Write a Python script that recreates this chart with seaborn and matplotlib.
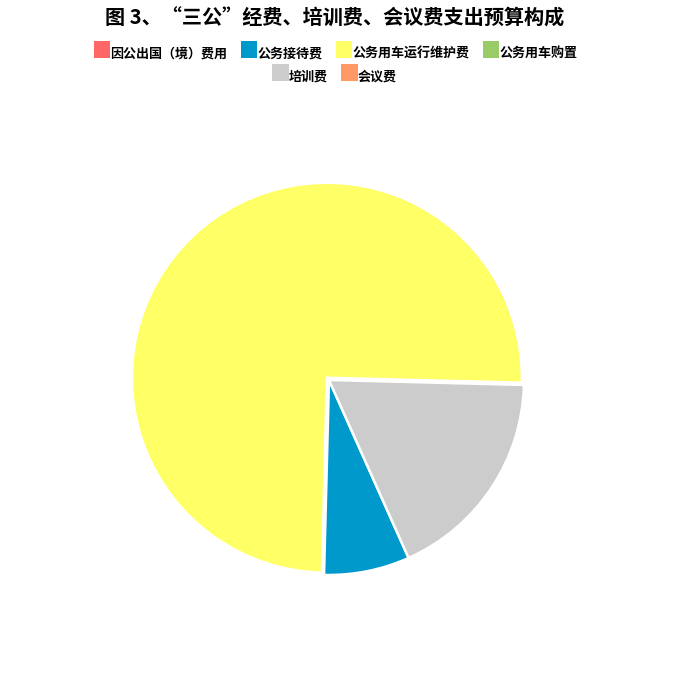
import matplotlib
matplotlib.use("Agg")
import matplotlib.pyplot as plt
from matplotlib.patches import Rectangle
import seaborn as sns

# budget composition (share, %)
categories = ["因公出国（境）费用", "公务接待费", "公务用车运行维护费", "公务用车购置", "培训费", "会议费"]
values = [0, 7.1, 75.0, 0, 17.9, 0]
colors = ["#ff6666", "#0099cc", "#ffff66", "#99cc66", "#cccccc", "#ff9966"]
title = "图 3、“三公”经费、培训费、会议费支出预算构成"

sns.set_theme(style="white")
plt.rcParams["font.family"] = ["Noto Sans CJK SC", "DejaVu Sans"]
plt.rcParams["text.color"] = "black"

W, H = 696, 675
fig = plt.figure(figsize=(W / 100, H / 100), dpi=100)
ax = fig.add_axes([0.1365, 0.0904, 0.6724, 0.6933])

# only the non-zero slices get drawn; zero ones still show in the legend
shown = [(v, c, l) for v, c, l in zip(values, colors, categories) if v > 0]
vals = [s[0] for s in shown]
cols = [s[1] for s in shown]
explode = [0.016 if s[2] == "公务用车运行维护费" else 0 for s in shown]

ax.pie(vals, colors=cols, startangle=-65.9, counterclock=False, explode=explode,
       radius=1, wedgeprops=dict(edgecolor="white", linewidth=1.8))
ax.set_xlim(-1.2, 1.2)
ax.set_ylim(-1.2, 1.2)
ax.set_aspect("equal")
ax.axis("off")

fig.text(0.4806, 0.973, title, ha="center", va="center", fontsize=14.5, fontweight="bold")

# legend laid out by hand: two centred rows, box then label
renderer = fig.canvas.get_renderer()
box_w, box_h, gap = 16.7, 17, 13.3


def legend_row(items, center_x, box_top):
    texts, widths = [], []
    for c, l in items:
        t = fig.text(0, 0, l, fontsize=9.4, fontweight="bold", ha="left", va="baseline")
        texts.append(t)
        widths.append(t.get_window_extent(renderer).width)
    total = sum(box_w + w for w in widths) + gap * (len(items) - 1)
    x = center_x - total / 2
    for (c, l), t, w in zip(items, texts, widths):
        fig.add_artist(Rectangle((x / W, 1 - (box_top + box_h) / H), box_w / W, box_h / H,
                                 transform=fig.transFigure, facecolor=c, edgecolor="none"))
        t.set_position(((x + box_w) / W, 1 - (box_top + box_h - 0.8) / H))
        x += box_w + w + gap


items = list(zip(colors, categories))
legend_row(items[:4], 335.5, 41)
legend_row(items[4:], 334.4, 64)

fig.savefig("out.png", dpi=100, facecolor="white")
